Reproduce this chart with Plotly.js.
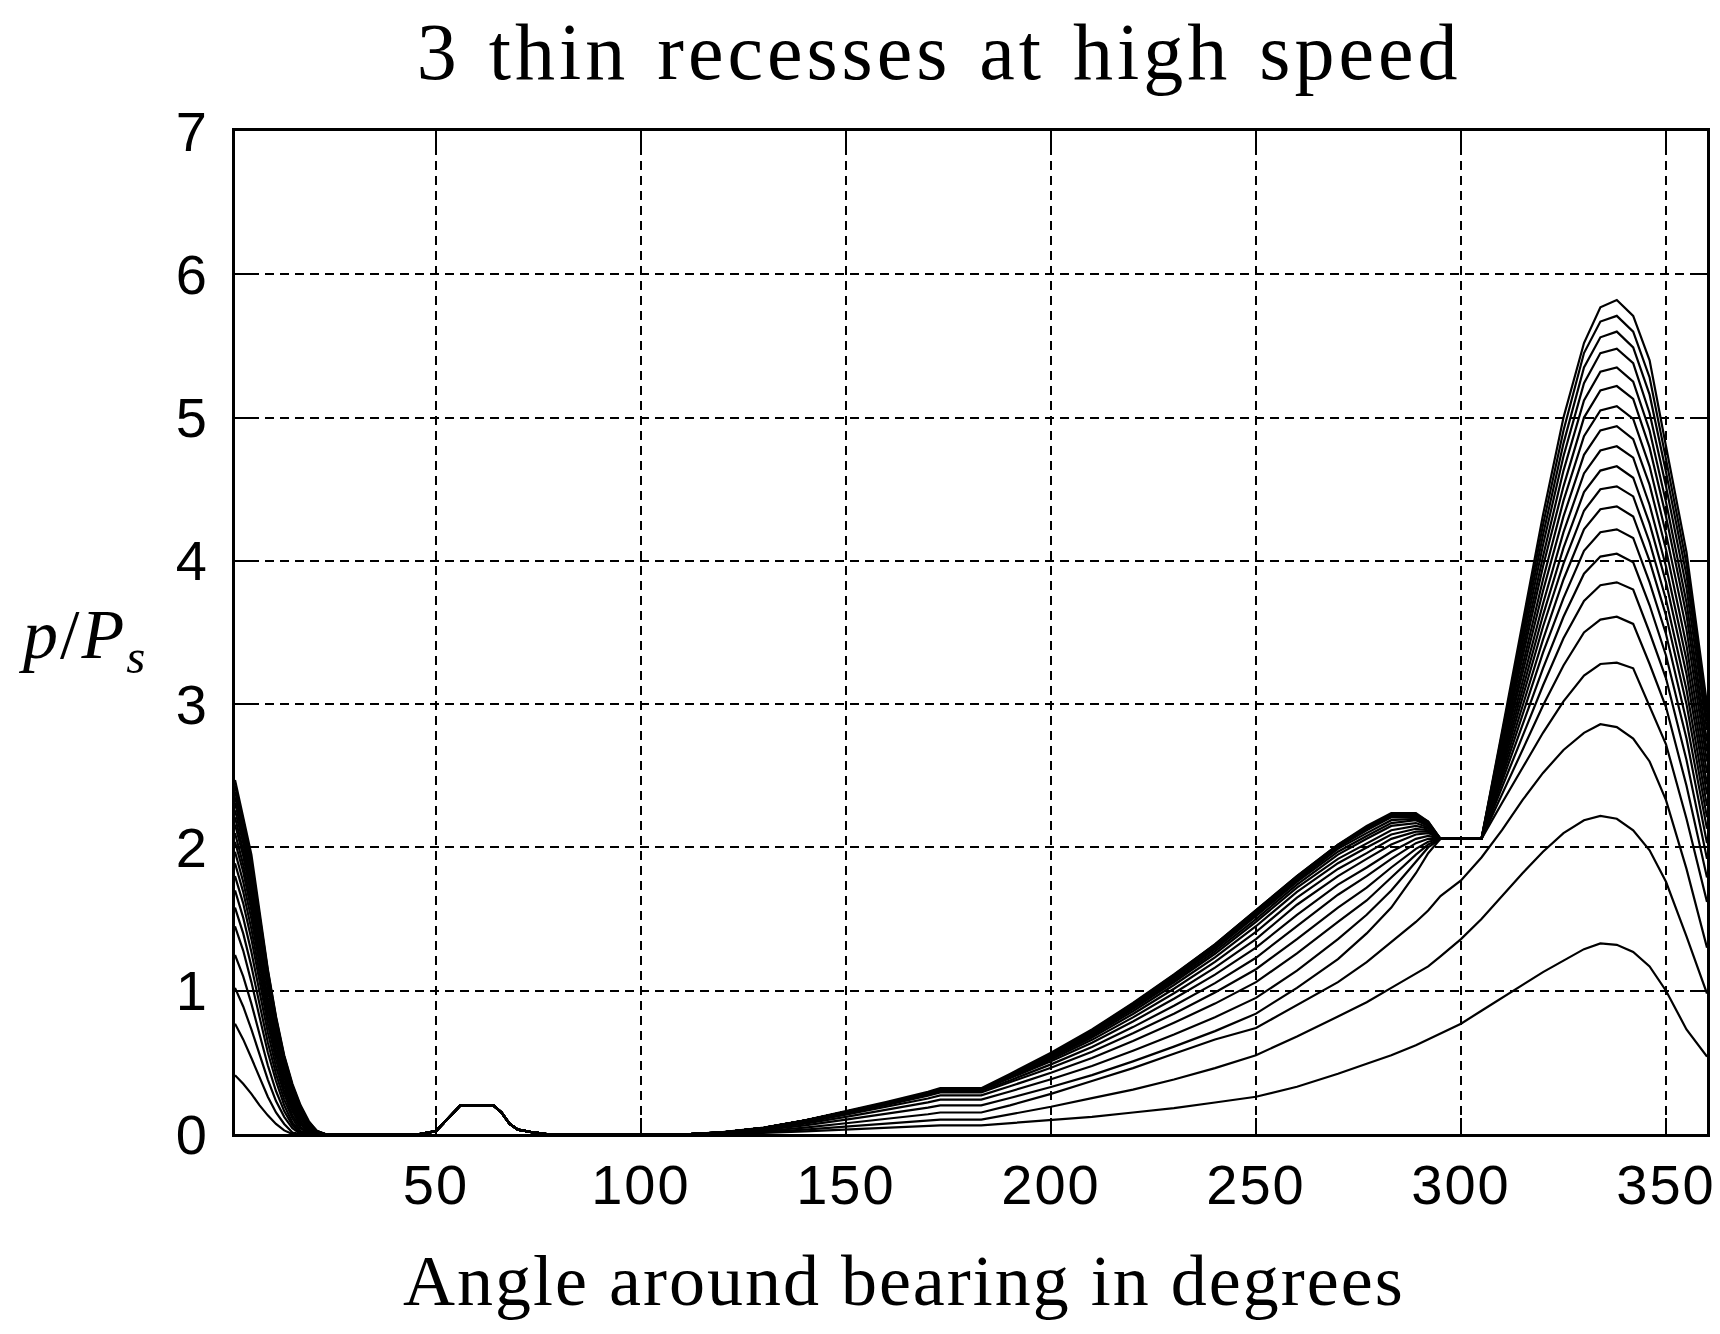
<!DOCTYPE html>
<html>
<head>
<meta charset="utf-8">
<script src="https://cdn.plot.ly/plotly-3.0.1.min.js"></script>
<style>
  html, body { margin: 0; padding: 0; background: #fff; }
  #grafico { width: 1720px; height: 1334px; }
  .gtitle { letter-spacing: 4px; word-spacing: 4px; }
  .annotation-text { letter-spacing: 2px; }
  .xtick text, .ytick text { letter-spacing: 2px; }
</style>
</head>
<body>
<div id="grafico"></div>
<script>

// angulos (grados) - tres tramos
var angDecay = [1, 3, 5, 7, 9, 11, 13, 15, 17, 19, 21, 23];
var angBump = [46, 50, 53, 56, 64, 66, 68, 70, 73, 77];
var angMain = [112, 120, 130, 140, 150, 160, 170, 173, 183, 190, 200, 210, 220, 230, 240, 250,
  260, 270, 277, 283, 289, 292, 295, 300, 305, 310, 315, 320, 325, 330, 334, 338, 342,
  346, 350, 355, 360];

// primer receso (igual para todas las curvas)
var bump = [0, 0.02, 0.11, 0.2, 0.2, 0.15, 0.07, 0.03, 0.015, 0];

// caida inicial, una fila por curva (de la mas baja a la mas alta)
var decay = [
  [0.41, 0.35, 0.28, 0.2, 0.13, 0.07, 0.025, 0, 0, 0, 0, 0],
  [0.77, 0.66, 0.53, 0.39, 0.26, 0.15, 0.07, 0.01, 0, 0, 0, 0],
  [1.02, 0.89, 0.73, 0.55, 0.38, 0.23, 0.12, 0.04, 0, 0, 0, 0],
  [1.25, 1.1, 0.91, 0.69, 0.48, 0.3, 0.16, 0.06, 0.005, 0, 0, 0],
  [1.45, 1.28, 1.06, 0.81, 0.57, 0.37, 0.2, 0.08, 0.01, 0, 0, 0],
  [1.58, 1.4, 1.17, 0.9, 0.64, 0.42, 0.24, 0.11, 0.02, 0, 0, 0],
  [1.7, 1.51, 1.27, 0.99, 0.71, 0.47, 0.28, 0.13, 0.04, 0, 0, 0],
  [1.8, 1.61, 1.36, 1.06, 0.77, 0.52, 0.31, 0.16, 0.05, 0.005, 0, 0],
  [1.89, 1.69, 1.43, 1.12, 0.82, 0.56, 0.34, 0.18, 0.07, 0.01, 0, 0],
  [1.97, 1.76, 1.5, 1.18, 0.87, 0.59, 0.37, 0.2, 0.08, 0.015, 0, 0],
  [2.04, 1.83, 1.56, 1.23, 0.91, 0.63, 0.4, 0.22, 0.09, 0.02, 0, 0],
  [2.1, 1.88, 1.61, 1.28, 0.95, 0.66, 0.42, 0.24, 0.11, 0.03, 0, 0],
  [2.16, 1.94, 1.66, 1.33, 0.99, 0.69, 0.45, 0.26, 0.12, 0.04, 0.003, 0],
  [2.21, 1.98, 1.7, 1.37, 1.02, 0.72, 0.47, 0.28, 0.14, 0.05, 0.005, 0],
  [2.26, 2.03, 1.74, 1.4, 1.05, 0.74, 0.49, 0.3, 0.15, 0.06, 0.01, 0],
  [2.31, 2.07, 1.78, 1.44, 1.08, 0.76, 0.5, 0.31, 0.16, 0.07, 0.01, 0],
  [2.35, 2.11, 1.82, 1.47, 1.1, 0.78, 0.52, 0.32, 0.17, 0.07, 0.015, 0],
  [2.39, 2.15, 1.86, 1.5, 1.12, 0.8, 0.53, 0.33, 0.18, 0.08, 0.02, 0],
  [2.43, 2.19, 1.9, 1.52, 1.14, 0.81, 0.54, 0.34, 0.19, 0.08, 0.02, 0],
  [2.47, 2.22, 1.95, 1.55, 1.15, 0.82, 0.55, 0.35, 0.2, 0.09, 0.02, 0]
];

// tramo 112..360, una fila por curva
var main = [
  [0, 0.002, 0.008, 0.018, 0.03, 0.042, 0.055, 0.06, 0.06, 0.075, 0.1, 0.12, 0.15, 0.18, 0.22, 0.26, 0.33, 0.42, 0.49, 0.55, 0.62, 0.66, 0.7, 0.77, 0.86, 0.95, 1.04, 1.13, 1.21, 1.29, 1.33, 1.32, 1.27, 1.17, 1.0, 0.73, 0.54],
  [0, 0.004, 0.014, 0.03, 0.05, 0.07, 0.092, 0.1, 0.1, 0.135, 0.19, 0.25, 0.31, 0.38, 0.46, 0.55, 0.68, 0.82, 0.92, 1.02, 1.12, 1.17, 1.24, 1.36, 1.5, 1.66, 1.82, 1.97, 2.1, 2.19, 2.22, 2.2, 2.12, 1.98, 1.76, 1.38, 0.98],
  [0, 0.006, 0.021, 0.045, 0.075, 0.105, 0.138, 0.15, 0.15, 0.2, 0.28, 0.37, 0.46, 0.56, 0.66, 0.74, 0.9, 1.06, 1.2, 1.34, 1.48, 1.56, 1.66, 1.77, 1.93, 2.12, 2.33, 2.52, 2.68, 2.8, 2.86, 2.84, 2.76, 2.6, 2.33, 1.85, 1.3],
  [0, 0.008, 0.028, 0.06, 0.1, 0.14, 0.184, 0.2, 0.2, 0.251, 0.328, 0.411, 0.507, 0.61, 0.718, 0.84, 1.02, 1.22, 1.4, 1.58, 1.82, 1.96, 2.06, 2.06, 2.06, 2.31, 2.55, 2.8, 3.02, 3.2, 3.28, 3.29, 3.25, 2.98, 2.72, 2.2, 1.62],
  [0, 0.01, 0.034, 0.072, 0.12, 0.168, 0.221, 0.24, 0.24, 0.297, 0.382, 0.474, 0.581, 0.694, 0.815, 0.95, 1.14, 1.36, 1.53, 1.7, 1.9, 2.0, 2.06, 2.06, 2.06, 2.37, 2.68, 2.99, 3.27, 3.5, 3.59, 3.61, 3.56, 3.28, 2.98, 2.43, 1.79],
  [0, 0.011, 0.038, 0.081, 0.135, 0.189, 0.248, 0.27, 0.27, 0.333, 0.428, 0.531, 0.649, 0.776, 0.91, 1.06, 1.26, 1.48, 1.63, 1.79, 1.95, 2.02, 2.06, 2.06, 2.06, 2.42, 2.78, 3.13, 3.46, 3.72, 3.83, 3.85, 3.8, 3.5, 3.18, 2.61, 1.92],
  [0, 0.012, 0.041, 0.087, 0.145, 0.203, 0.267, 0.29, 0.29, 0.359, 0.462, 0.574, 0.703, 0.84, 0.987, 1.15, 1.36, 1.58, 1.72, 1.86, 1.99, 2.04, 2.06, 2.06, 2.06, 2.46, 2.86, 3.25, 3.61, 3.91, 4.03, 4.05, 3.99, 3.69, 3.34, 2.76, 2.03],
  [0, 0.012, 0.042, 0.09, 0.15, 0.21, 0.276, 0.3, 0.3, 0.374, 0.486, 0.607, 0.746, 0.895, 1.053, 1.23, 1.45, 1.67, 1.8, 1.92, 2.03, 2.06, 2.06, 2.06, 2.06, 2.49, 2.92, 3.36, 3.74, 4.07, 4.2, 4.22, 4.16, 3.85, 3.49, 2.88, 2.13],
  [0, 0.012, 0.043, 0.093, 0.155, 0.217, 0.285, 0.31, 0.31, 0.389, 0.508, 0.637, 0.785, 0.944, 1.112, 1.3, 1.53, 1.74, 1.86, 1.97, 2.06, 2.08, 2.06, 2.06, 2.06, 2.52, 2.99, 3.45, 3.87, 4.22, 4.36, 4.38, 4.31, 4.0, 3.62, 3.0, 2.21],
  [0, 0.012, 0.043, 0.093, 0.155, 0.217, 0.285, 0.31, 0.31, 0.394, 0.52, 0.657, 0.814, 0.982, 1.161, 1.36, 1.6, 1.8, 1.92, 2.02, 2.09, 2.1, 2.06, 2.06, 2.06, 2.55, 3.04, 3.54, 3.98, 4.35, 4.5, 4.52, 4.45, 4.13, 3.73, 3.1, 2.29],
  [0, 0.012, 0.043, 0.093, 0.155, 0.217, 0.285, 0.31, 0.31, 0.398, 0.53, 0.673, 0.838, 1.014, 1.201, 1.41, 1.65, 1.85, 1.96, 2.06, 2.11, 2.11, 2.06, 2.06, 2.06, 2.58, 3.1, 3.62, 4.09, 4.48, 4.63, 4.66, 4.58, 4.26, 3.85, 3.21, 2.37],
  [0, 0.012, 0.043, 0.093, 0.155, 0.217, 0.285, 0.31, 0.31, 0.401, 0.538, 0.686, 0.857, 1.04, 1.233, 1.45, 1.69, 1.89, 2.0, 2.09, 2.13, 2.12, 2.06, 2.06, 2.06, 2.61, 3.16, 3.7, 4.2, 4.61, 4.77, 4.8, 4.72, 4.39, 3.96, 3.31, 2.44],
  [0, 0.012, 0.043, 0.093, 0.155, 0.217, 0.285, 0.31, 0.31, 0.404, 0.544, 0.696, 0.872, 1.059, 1.258, 1.48, 1.72, 1.92, 2.03, 2.12, 2.15, 2.13, 2.06, 2.06, 2.06, 2.64, 3.21, 3.79, 4.31, 4.74, 4.91, 4.94, 4.85, 4.53, 4.08, 3.41, 2.52],
  [0, 0.012, 0.043, 0.093, 0.155, 0.217, 0.285, 0.31, 0.31, 0.405, 0.548, 0.703, 0.881, 1.072, 1.274, 1.5, 1.74, 1.95, 2.06, 2.15, 2.17, 2.14, 2.06, 2.06, 2.06, 2.66, 3.27, 3.87, 4.42, 4.87, 5.05, 5.08, 4.99, 4.66, 4.19, 3.52, 2.6],
  [0, 0.012, 0.043, 0.093, 0.155, 0.217, 0.285, 0.31, 0.31, 0.407, 0.552, 0.709, 0.891, 1.084, 1.29, 1.52, 1.76, 1.97, 2.08, 2.17, 2.19, 2.15, 2.06, 2.06, 2.06, 2.69, 3.32, 3.96, 4.52, 5.0, 5.19, 5.22, 5.13, 4.79, 4.31, 3.62, 2.67],
  [0, 0.012, 0.043, 0.093, 0.155, 0.217, 0.285, 0.31, 0.31, 0.408, 0.554, 0.713, 0.896, 1.091, 1.298, 1.53, 1.77, 1.99, 2.1, 2.19, 2.2, 2.16, 2.06, 2.06, 2.06, 2.72, 3.38, 4.03, 4.63, 5.12, 5.32, 5.35, 5.25, 4.91, 4.41, 3.71, 2.74],
  [0, 0.012, 0.043, 0.093, 0.155, 0.217, 0.285, 0.31, 0.31, 0.408, 0.556, 0.716, 0.9, 1.097, 1.306, 1.54, 1.78, 2.0, 2.12, 2.21, 2.21, 2.17, 2.06, 2.06, 2.06, 2.74, 3.43, 4.11, 4.73, 5.24, 5.45, 5.48, 5.38, 5.03, 4.52, 3.81, 2.82],
  [0, 0.012, 0.043, 0.093, 0.155, 0.217, 0.285, 0.31, 0.31, 0.409, 0.558, 0.719, 0.905, 1.104, 1.314, 1.55, 1.79, 2.01, 2.13, 2.22, 2.22, 2.17, 2.06, 2.06, 2.06, 2.77, 3.48, 4.18, 4.82, 5.35, 5.56, 5.6, 5.49, 5.16, 4.62, 3.9, 2.88],
  [0, 0.012, 0.043, 0.093, 0.155, 0.217, 0.285, 0.31, 0.31, 0.41, 0.56, 0.723, 0.91, 1.11, 1.323, 1.56, 1.8, 2.02, 2.14, 2.23, 2.23, 2.18, 2.06, 2.06, 2.06, 2.79, 3.52, 4.25, 4.91, 5.45, 5.67, 5.71, 5.6, 5.28, 4.71, 3.98, 2.94],
  [0, 0.013, 0.045, 0.096, 0.16, 0.224, 0.294, 0.32, 0.32, 0.419, 0.568, 0.729, 0.915, 1.114, 1.324, 1.56, 1.8, 2.02, 2.15, 2.24, 2.24, 2.18, 2.06, 2.06, 2.06, 2.81, 3.56, 4.32, 5.0, 5.52, 5.77, 5.82, 5.71, 5.4, 4.8, 4.06, 3.0]
];

var equis = angDecay.concat(angBump, angMain);

var data = [];
for (let i = 0; i < main.length; i++) {
  data.push({
    x: equis,
    y: decay[i].concat(bump, main[i]),
    type: 'scatter',
    mode: 'lines',
    line: { color: 'black', width: 2.2 },
    hoverinfo: 'skip',
    showlegend: false
  });
}

var ejeComun = {
  ticks: 'inside',
  ticklen: 16,
  tickwidth: 2,
  tickcolor: 'black',
  showline: true,
  linewidth: 3,
  linecolor: 'black',
  mirror: 'ticks',
  showgrid: true,
  gridcolor: 'black',
  gridwidth: 2,
  griddash: '9px,6px',
  zeroline: false,
  tickfont: { family: 'Liberation Sans', size: 56, color: 'black' }
};

var layout = {
  width: 1720,
  height: 1334,
  margin: { l: 235, r: 13, t: 131, b: 200 },
  paper_bgcolor: 'white',
  plot_bgcolor: 'white',
  title: {
    text: '3 thin recesses at high speed',
    font: { family: 'Liberation Serif', size: 80, color: 'black' },
    x: 0.546, xanchor: 'center',
    y: 0.962, yanchor: 'middle'
  },
  xaxis: Object.assign({}, ejeComun, {
    range: [1, 360],
    tickvals: [50, 100, 150, 200, 250, 300, 350],
    ticklabelstandoff: 0
  }),
  yaxis: Object.assign({}, ejeComun, {
    range: [0, 7],
    tickvals: [0, 1, 2, 3, 4, 5, 6, 7],
    ticklabelstandoff: 12
  }),
  annotations: [
    {
      text: 'Angle around bearing in degrees',
      xref: 'paper', yref: 'paper',
      x: 0.4545, y: -0.147,
      xanchor: 'center', yanchor: 'middle',
      showarrow: false,
      font: { family: 'Liberation Serif', size: 72, color: 'black' }
    },
    {
      text: '<i>p</i>/<i>P</i><sub><i>s</i></sub>',
      xref: 'paper', yref: 'paper',
      x: -0.1033, y: 0.493,
      xanchor: 'center', yanchor: 'middle',
      showarrow: false,
      font: { family: 'Liberation Serif', size: 70, color: 'black' }
    }
  ]
};

Plotly.newPlot("grafico", data, layout, { staticPlot: true });
</script>
</body>
</html>
